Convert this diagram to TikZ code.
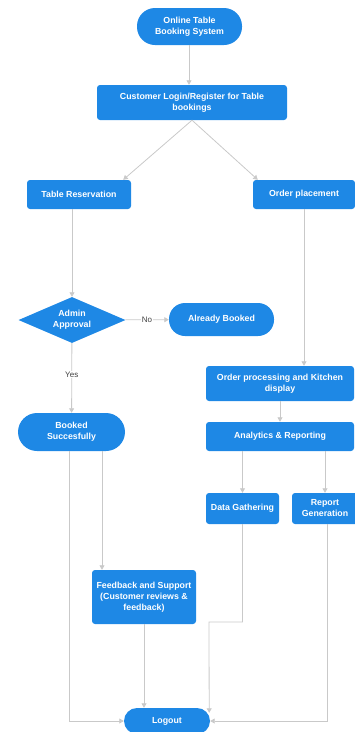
\documentclass[tikz,border=0pt]{standalone}
\usepackage{fontspec}
\setmainfont{Liberation Sans}
\usetikzlibrary{calc}
\usetikzlibrary{arrows.meta}
\usetikzlibrary{shapes.geometric}
\definecolor{boxblue}{HTML}{1E88E5}
\definecolor{linegrey}{HTML}{C9C9C9}

\begin{document}
\begin{tikzpicture}[x=1pt, y=-1pt,
    box/.style={fill=boxblue, text=white, font=\fontsize{8.8}{11}\selectfont\bfseries, align=center, rounded corners=3pt, inner sep=0pt},
    pill/.style={box, rounded corners=#1},
    decision/.style={diamond, fill=boxblue, text=white, font=\fontsize{8.8}{11}\selectfont\bfseries, align=center, inner sep=0pt, aspect=2.3},
    link/.style={draw=linegrey, line width=0.8pt, -{Triangle[width=5pt,length=4.5pt,fill=linegrey]}},
    tag/.style={fill=white, font=\fontsize{8}{9}\selectfont, text=black!75, inner sep=1pt}]
    \useasboundingbox (0,0) rectangle (354,732);
    \node[pill=18pt, minimum width=105pt, minimum height=37pt] (start) at (189.5,26.5) {Online Table\\Booking System};
    \node[box, minimum width=190pt, minimum height=35pt] (login) at (192,102.5) {Customer Login/Register for Table\\bookings};
    \node[box, minimum width=104pt, minimum height=29pt] (tres) at (79,194.5) {Table Reservation};
    \node[box, minimum width=102pt, minimum height=29pt] (order) at (304,194.5) {Order placement};
    \node[decision, minimum width=107pt, minimum height=46pt] (admin) at (72,320) {Admin\\Approval};
    \node[pill=16pt, minimum width=105pt, minimum height=33pt] (already) at (221.5,319.5) {Already Booked};
    \node[box, minimum width=148pt, minimum height=35pt] (kitchen) at (280,383.5) {Order processing and Kitchen\\display};
    \node[box, minimum width=148pt, minimum height=29pt] (analytics) at (280,436.5) {Analytics \& Reporting};
    \node[pill=19pt, minimum width=107pt, minimum height=38pt] (booked) at (71.5,432) {Booked\\Succesfully};
    \node[box, minimum width=73pt, minimum height=31pt] (data) at (242.5,508.5) {Data Gathering};
    \node[box, minimum width=66pt, minimum height=31pt] (report) at (325,508.5) {Report\\Generation};
    \node[box, minimum width=104pt, minimum height=54pt] (feedback) at (144,597) {Feedback and Support\\(Customer reviews \&\\feedback)};
    \node[pill=13pt, minimum width=86pt, minimum height=26pt] (logout) at (167,721) {Logout};

    \draw[link] (start.south -| 189,0) -- (login.north -| 189,0);
    \draw[link] (login.south) -- ($(tres.north east)+(-8,0)$);
    \draw[link] (login.south) -- ($(order.north west)+(5,0)$);
    \draw[link] (tres.south -| admin.north) -- (admin.north);
    \draw[link] (admin) -- node[tag]{No} (already);
    \draw[link] (admin) -- node[tag, pos=0.45]{Yes} (booked);
    \draw[link] (order.south) -- (kitchen.north -| order.south);
    \draw[link] (kitchen) -- (analytics);
    \draw[link] (analytics.south -| data.north) -- (data);
    \draw[link] (analytics.south -| report.north) -- (report.north);
    \draw[link] (booked.south -| 102,0) -- (feedback.north -| 102,0);
    \draw[link] (booked.south -| 69,0) |- (logout.west);
    \draw[link] (feedback.south) -- (feedback.south |- logout.north);
    \draw[link] (data.south) |- (209,622) -- ($(logout.north east)+(-1,5)$);
    \draw[link] (report.south -| 327,0) |- (logout.east);
\end{tikzpicture}
\end{document}
